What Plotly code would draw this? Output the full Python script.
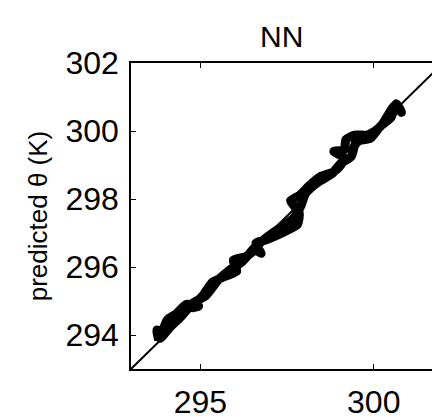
import plotly.graph_objects as go

observed = [293.80, 293.75, 293.95, 293.85, 294.05, 294.30, 294.60, 294.95, 294.75, 295.10,
            295.35, 295.70, 296.05, 295.95, 296.30, 296.60, 296.75, 296.60, 296.90, 297.25,
            297.55, 297.80, 297.85, 297.60, 297.85, 298.15, 298.45, 298.85, 299.05, 299.15,
            298.85, 299.15, 299.20, 299.45, 299.80, 300.10, 300.25, 300.40, 300.60, 300.80,
            300.65, 300.50, 300.20, 299.90, 299.50, 299.35, 299.05, 298.80, 298.40, 298.05,
            297.90, 297.70, 297.30, 296.95, 296.55, 296.20, 295.90, 295.50, 295.15, 294.80,
            294.45, 294.10, 293.90]
predicted = [293.85, 294.15, 294.05, 293.90, 294.45, 294.62, 294.90, 294.85, 294.80, 295.20,
             295.55, 295.72, 295.88, 296.20, 296.30, 296.50, 296.40, 296.70, 296.80, 296.95,
             297.10, 297.25, 297.60, 297.95, 298.10, 298.40, 298.65, 298.80, 299.00, 299.20,
             299.40, 299.45, 299.75, 299.88, 299.88, 300.05, 300.20, 300.45, 300.75, 300.55,
             300.80, 300.40, 300.15, 299.78, 299.70, 299.25, 299.05, 298.75, 298.50, 298.20,
             297.80, 297.45, 297.15, 296.90, 296.55, 296.15, 295.95, 295.60, 295.15, 294.95,
             294.55, 294.20, 293.95]

x_ticks = [295, 300]
y_ticks = [294, 296, 298, 300, 302]
x_range = [293, 301.68]
y_range = [293, 302]

FONT = "Liberation Sans, Arial, sans-serif"

fig = go.Figure()
fig.add_trace(go.Scatter(x=[y_range[0], y_range[1]], y=[y_range[0], y_range[1]],
                         mode="lines", line=dict(color="black", width=2),
                         showlegend=False, hoverinfo="skip"))
fig.add_trace(go.Scatter(x=observed, y=predicted, mode="lines",
                         line=dict(color="black", width=9, shape="spline", smoothing=0.6),
                         showlegend=False))

fig.update_layout(
    width=432, height=420,
    margin=dict(l=131, r=0, t=63, b=47),
    paper_bgcolor="white", plot_bgcolor="white",
    font=dict(family=FONT, color="black", size=32),
    title=dict(text="NN", x=0.652, xanchor="center", y=0.913, yanchor="middle",
               font=dict(family=FONT, size=30, color="black")),
    xaxis=dict(range=x_range, tickvals=x_ticks, ticks="inside", ticklen=5,
               tickcolor="black", tickwidth=1, showline=True, linecolor="black",
               linewidth=1.5, mirror="ticks", showgrid=False, zeroline=False,
               tickfont=dict(size=32), ticklabelstandoff=4),
    yaxis=dict(range=y_range, tickvals=y_ticks, ticks="inside", ticklen=5,
               tickcolor="black", tickwidth=1, showline=True, linecolor="black",
               linewidth=1.5, showgrid=False, zeroline=False,
               tickfont=dict(size=32), ticklabelstandoff=4,
               title=dict(text="predicted θ (K)", font=dict(size=26), standoff=10)),
)

fig.write_html("out.html")
